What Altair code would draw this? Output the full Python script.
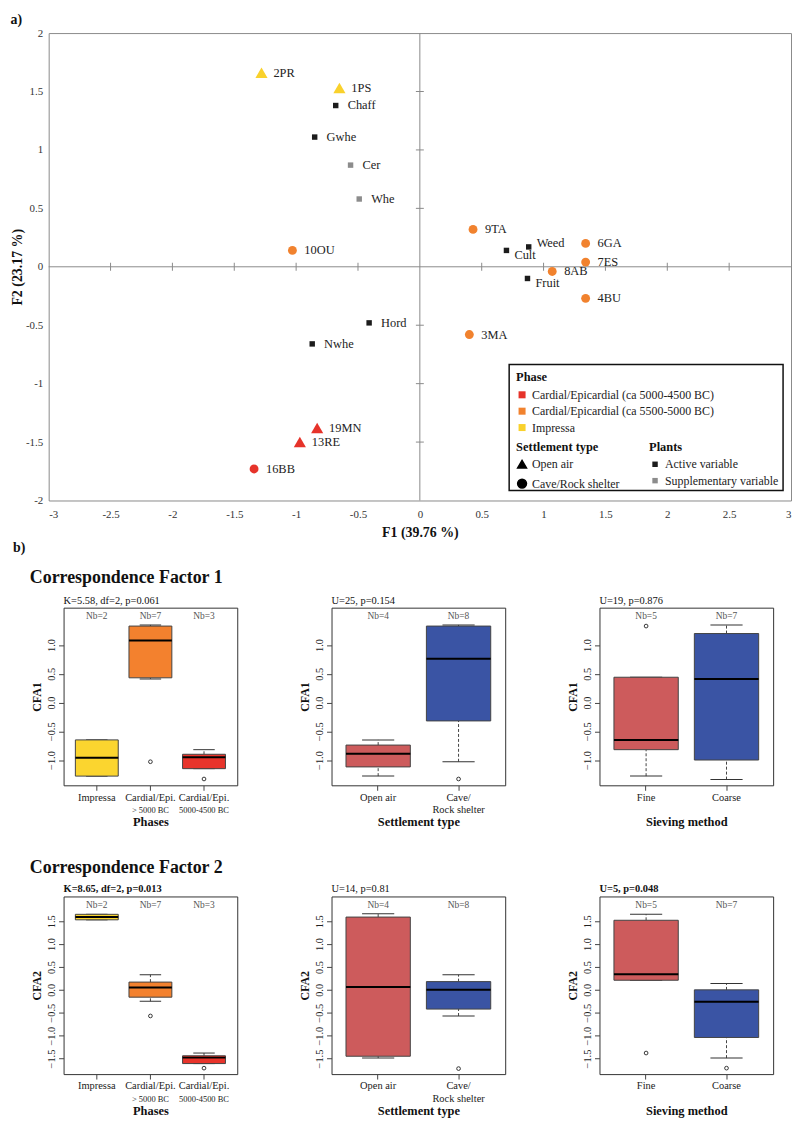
import altair as alt
import pandas as pd

FONT = "Liberation Serif"

# ---------------- a) correspondence analysis ----------------
PH_RED = "Cardial/Epicardial (ca 5000-4500 BC)"
PH_ORA = "Cardial/Epicardial (ca 5500-5000 BC)"
PH_YEL = "Impressa"
phase_domain = [PH_RED, PH_ORA, PH_YEL]
phase_colors = ["#E6332A", "#F1822E", "#F9D12C"]

stype_domain = ["Open air", "Cave/Rock shelter"]
role_domain = ["Active variable", "Supplementary variable"]
role_colors = ["#1c1c1c", "#8c8c8c"]

site_names = ["1PS", "2PR", "3MA", "4BU", "6GA", "7ES", "8AB", "9TA", "10OU", "13RE", "16BB", "19MN"]
site_f1 = [-0.65, -1.28, 0.40, 1.34, 1.34, 1.34, 1.07, 0.43, -1.03, -0.97, -1.34, -0.83]
site_f2 = [1.53, 1.66, -0.58, -0.27, 0.20, 0.04, -0.04, 0.32, 0.14, -1.50, -1.73, -1.38]
site_phase = [PH_YEL, PH_YEL, PH_ORA, PH_ORA, PH_ORA, PH_ORA, PH_ORA, PH_ORA, PH_ORA, PH_RED, PH_RED, PH_RED]
site_type = ["Open air", "Open air", "Cave/Rock shelter", "Cave/Rock shelter", "Cave/Rock shelter",
             "Cave/Rock shelter", "Cave/Rock shelter", "Cave/Rock shelter", "Cave/Rock shelter",
             "Open air", "Cave/Rock shelter", "Open air"]

plant_names = ["Chaff", "Gwhe", "Cer", "Whe", "Weed", "Cult", "Fruit", "Hord", "Nwhe"]
plant_f1 = [-0.68, -0.85, -0.56, -0.49, 0.88, 0.70, 0.87, -0.41, -0.87]
plant_f2 = [1.38, 1.11, 0.87, 0.58, 0.17, 0.14, -0.10, -0.48, -0.66]
plant_role = ["Active variable", "Active variable", "Supplementary variable", "Supplementary variable",
              "Active variable", "Active variable", "Active variable", "Active variable", "Active variable"]

x_ticks = [-3, -2.5, -2, -1.5, -1, -0.5, 0, 0.5, 1, 1.5, 2, 2.5, 3]
y_ticks = [-2, -1.5, -1, -0.5, 0, 0.5, 1, 1.5, 2]

# ---------------- b) boxplots ----------------
phase_l1 = ["Impressa", "Cardial/Epi.", "Cardial/Epi."]
phase_l2 = ["", "> 5000 BC", "5000-4500 BC"]
phase_nb = ["Nb=2", "Nb=7", "Nb=3"]
phase_fill = ["#FBD52F", "#F3812E", "#E8342B"]

settle_l1 = ["Open air", "Cave/"]
settle_l2 = ["", "Rock shelter"]
settle_nb = ["Nb=4", "Nb=8"]

sieve_l1 = ["Fine", "Coarse"]
sieve_l2 = ["", ""]
sieve_nb = ["Nb=5", "Nb=7"]

two_fill = ["#CD5B5C", "#3A54A4"]

# stats per box: [whisker low, Q1, median, Q3, whisker high]
cfa1_phase = [[-1.28, -1.28, -0.96, -0.65, -0.65], [0.41, 0.43, 1.08, 1.33, 1.35], [-1.15, -1.15, -0.95, -0.90, -0.82]]
cfa1_phase_out = [[1, -1.03], [2, -1.33]]
cfa1_settle = [[-1.28, -1.12, -0.89, -0.74, -0.65], [-1.03, -0.32, 0.76, 1.33, 1.35]]
cfa1_settle_out = [[1, -1.33]]
cfa1_sieve = [[-1.28, -0.82, -0.65, 0.44, 0.44], [-1.34, -1.00, 0.41, 1.20, 1.35]]
cfa1_sieve_out = [[0, 1.33]]

cfa2_phase = [[1.53, 1.53, 1.59, 1.65, 1.65], [-0.25, -0.16, 0.05, 0.17, 0.33], [-1.61, -1.61, -1.48, -1.44, -1.38]]
cfa2_phase_out = [[1, -0.57], [2, -1.71]]
cfa2_settle = [[-1.49, -1.45, 0.06, 1.59, 1.66], [-0.57, -0.42, 0.00, 0.18, 0.33]]
cfa2_settle_out = [[1, -1.72]]
cfa2_sieve = [[0.21, 0.21, 0.34, 1.52, 1.65], [-1.49, -1.04, -0.26, 0.00, 0.14]]
cfa2_sieve_out = [[0, -1.38], [1, -1.71]]

cfa1_domain = [-1.44, 1.65]
cfa1_ticks = [-1.0, -0.5, 0.0, 0.5, 1.0]
cfa1_nb_y = 1.51
cfa2_domain = [-1.84, 2.04]
cfa2_ticks = [-1.5, -1.0, -0.5, 0.0, 0.5, 1.0, 1.5]
cfa2_nb_y = 1.86

# =====================================================================
W, H = 748, 471
xs = alt.Scale(domain=[-3, 3], nice=False, zero=False)
ys = alt.Scale(domain=[-2, 2], nice=False, zero=False)
xax = alt.Axis(values=x_ticks, ticks=False, domain=False, grid=False, labelExpr="'' + datum.value",
               labelFontSize=11, labelColor="#333", labelPadding=8, titleFontSize=14,
               titleFontWeight="bold", titlePadding=6, titleColor="#111")
yax = alt.Axis(values=y_ticks, ticks=False, domain=False, grid=False, labelExpr="'' + datum.value",
               labelFontSize=11, labelColor="#333", labelPadding=6, titleFontSize=14,
               titleFontWeight="bold", titlePadding=1, titleColor="#111")


def X(f):
    return alt.X(f, type="quantitative", scale=xs, axis=xax, title="F1 (39.76 %)")


def Y(f):
    return alt.Y(f, type="quantitative", scale=ys, axis=yax, title="F2 (23.17 %)")


sites = pd.DataFrame({"name": site_names, "f1": site_f1, "f2": site_f2,
                      "phase": site_phase, "stype": site_type})
plants = pd.DataFrame({"name": plant_names, "f1": plant_f1, "f2": plant_f2, "role": plant_role})

zero = pd.DataFrame({"v": [0]})
xt = pd.DataFrame({"t": [t for t in x_ticks if t not in (0, -3, 3)]})
xt["z"] = 0
yt = pd.DataFrame({"t": [t for t in y_ticks if t not in (0, -2, 2)]})
yt["z"] = 0

leg_common = dict(orient="none", padding=0, titleFontSize=12.5, titleFontWeight="bold",
                  titleColor="#111", labelFontSize=12, labelColor="#222", labelFontWeight="normal",
                  titlePadding=5, rowPadding=4.5, labelOffset=4, labelLimit=0,
                  titleFont=FONT, labelFont=FONT)

color_sites = alt.Color("phase:N", scale=alt.Scale(domain=phase_domain, range=phase_colors),
                        legend=alt.Legend(title="Phase", legendX=471, legendY=341,
                                          symbolType="square", symbolSize=50, symbolStrokeWidth=0,
                                          **leg_common))
shape_sites = alt.Shape("stype:N", scale=alt.Scale(domain=stype_domain, range=["triangle-up", "circle"]),
                        legend=alt.Legend(title="Settlement type", legendX=511, legendY=411,
                                          symbolFillColor="#000", symbolStrokeColor="#000",
                                          symbolSize=80, **leg_common))
color_plants = alt.Color("role:N", scale=alt.Scale(domain=role_domain, range=role_colors),
                         legend=alt.Legend(title="Plants", legendX=605, legendY=411,
                                           symbolType="square", symbolSize=30, symbolStrokeWidth=0,
                                           **leg_common))

legend_box = alt.Chart(zero).mark_rect(fill="white", stroke="#111", strokeWidth=1.5).encode(
    x=alt.value(464), x2=alt.value(740), y=alt.value(334), y2=alt.value(461))

vline = alt.Chart(zero).mark_rule(color="#8a8a8a", strokeWidth=1).encode(x=X("v"))
hline = alt.Chart(zero).mark_rule(color="#8a8a8a", strokeWidth=1).encode(y=Y("v"))
xcross = alt.Chart(xt).mark_tick(orient="vertical", size=8, thickness=1, color="#8a8a8a", opacity=1).encode(
    x=X("t"), y=Y("z"))
ycross = alt.Chart(yt).mark_tick(orient="horizontal", size=8, thickness=1, color="#8a8a8a", opacity=1).encode(
    x=X("z"), y=Y("t"))

plant_pts = alt.Chart(plants).mark_square(size=30, opacity=1).encode(x=X("f1"), y=Y("f2"), color=color_plants)
site_pts = alt.Chart(sites).mark_point(filled=True, opacity=1, strokeWidth=0).encode(
    x=X("f1"), y=Y("f2"), color=color_sites, shape=shape_sites,
    size=alt.condition(alt.datum.stype == "Open air", alt.value(150), alt.value(80)))

txt_style = dict(align="left", baseline="middle", fontSize=12.5, color="#222", font=FONT)
site_txt = alt.Chart(sites).mark_text(dx=12, **txt_style).encode(x=X("f1"), y=Y("f2"), text="name:N")
low_names = ["Cult", "Fruit"]
high_names = ["Weed"]
plant_txt = alt.Chart(plants).transform_filter(
    ~alt.FieldOneOfPredicate(field="name", oneOf=low_names + high_names)).mark_text(dx=12, **txt_style).encode(
    x=X("f1"), y=Y("f2"), text="name:N")
plant_txt_low = alt.Chart(plants).transform_filter(
    alt.FieldOneOfPredicate(field="name", oneOf=low_names)).mark_text(dx=8, dy=5, **txt_style).encode(
    x=X("f1"), y=Y("f2"), text="name:N")
plant_txt_high = alt.Chart(plants).transform_filter(
    alt.FieldOneOfPredicate(field="name", oneOf=high_names)).mark_text(dx=8, dy=-4, **txt_style).encode(
    x=X("f1"), y=Y("f2"), text="name:N")

top = alt.layer(
    legend_box, vline, hline, xcross, ycross, plant_pts, site_pts, site_txt, plant_txt, plant_txt_low,
    plant_txt_high
).resolve_scale(color="independent").properties(
    width=W, height=H, view=alt.ViewConfig(stroke="#8a8a8a", strokeWidth=1),
    title=alt.TitleParams("a)", anchor="start", fontSize=14, fontWeight="bold", offset=0, color="#111",
                          font=FONT))


def spacer(w):
    return alt.Chart(zero).mark_point(size=1, opacity=0).encode(
        x=alt.value(0), y=alt.value(0)).properties(width=w, height=1, view=alt.ViewConfig(strokeOpacity=0))


# =====================================================================
PW, PH = 175, 179


def box_panel(line1, line2, l2size, nbs, fills, stats, outs, ydom, yticks, nby, ytitle, xtitle,
              subtitle, bold, heads=None):
    n = len(line1)
    cats = [f"{a}|{b}" for a, b in zip(line1, line2)]
    po = 0.22 if n == 3 else 0.18
    step = PW / (n - 0.2 + 2 * po)
    bw = 0.8 * step
    df = pd.DataFrame({"cat": cats, "l2": line2, "nb": nbs, "fill": fills,
                       "lo": [s[0] for s in stats], "q1": [s[1] for s in stats],
                       "med": [s[2] for s in stats], "q3": [s[3] for s in stats],
                       "hi": [s[4] for s in stats]})
    df["nby"] = nby
    odf = pd.DataFrame({"cat": [cats[i] for i, v in outs], "val": [v for i, v in outs]})
    xaxis = alt.Axis(labelExpr="split(datum.label, '|')[0]", labelAngle=0, labelFontSize=10.5,
                     labelPadding=2, tickSize=5, domain=False, grid=False, labelColor="#222",
                     tickColor="#444", titleY=41, titleBaseline="alphabetic", titleFontSize=12.5,
                     titleFontWeight="bold", titleColor="#111", labelFont=FONT, titleFont=FONT)
    yaxis = alt.Axis(values=yticks, format=".1f", labelAngle=-90, labelAlign="center",
                     labelBaseline="bottom", labelPadding=2, tickSize=5, domain=False, grid=False,
                     labelFontSize=10.5, labelColor="#222", tickColor="#444", titleFontSize=12,
                     titleFontWeight="bold", titlePadding=3, titleColor="#111", labelFont=FONT,
                     titleFont=FONT)
    ysc = alt.Scale(domain=ydom, nice=False, zero=False)
    XX = alt.X("cat:N", sort=cats, scale=alt.Scale(paddingInner=0.2, paddingOuter=po), axis=xaxis,
               title=xtitle)

    def YY(f):
        return alt.Y(f, type="quantitative", scale=ysc, axis=yaxis, title=ytitle)

    b = alt.Chart(df)
    layers = [
        b.mark_rule(color="#444", strokeDash=[3, 2], strokeWidth=1).encode(x=XX, y=YY("q3"), y2="hi:Q"),
        b.mark_rule(color="#444", strokeDash=[3, 2], strokeWidth=1).encode(x=XX, y=YY("lo"), y2="q1:Q"),
        b.mark_tick(color="#333", size=bw / 2, thickness=1, opacity=1).encode(x=XX, y=YY("hi")),
        b.mark_tick(color="#333", size=bw / 2, thickness=1, opacity=1).encode(x=XX, y=YY("lo")),
        b.mark_bar(stroke="#444", strokeWidth=1).encode(x=XX, y=YY("q1"), y2="q3:Q",
                                                       fill=alt.Fill("fill:N", scale=None)),
        b.mark_tick(color="#000", size=bw, thickness=2, opacity=1).encode(x=XX, y=YY("med")),
        b.mark_text(fontSize=9.5, color="#555", baseline="middle", font=FONT).encode(
            x=XX, y=YY("nby"), text="nb:N"),
        b.mark_text(fontSize=l2size, color="#222", baseline="middle", font=FONT).encode(
            x=XX, y=alt.value(PH + 25), text="l2:N"),
    ]
    if outs:
        layers.append(alt.Chart(odf).mark_point(shape="circle", size=14, color="#222", strokeWidth=0.9,
                                                opacity=1, filled=False).encode(x=XX, y=YY("val")))
    heads = list(heads or []) + [(subtitle, 0, -7, 10.5, "bold" if bold else "normal")]
    for text, hx, hy, fs, fw in heads:
        layers.append(alt.Chart(pd.DataFrame({"t": [text]})).mark_text(
            align="left", baseline="middle", fontSize=fs, fontWeight=fw, color="#111",
            font=FONT).encode(x=alt.value(hx), y=alt.value(hy), text="t:N"))
    return alt.layer(*layers).properties(
        width=PW, height=PH, view=alt.ViewConfig(stroke="#333", strokeWidth=1))


p11 = box_panel(phase_l1, phase_l2, 8.5, phase_nb, phase_fill, cfa1_phase, cfa1_phase_out, cfa1_domain,
                cfa1_ticks, cfa1_nb_y, "CFA1", "Phases", "K=5.58, df=2, p=0.061", False,
                heads=[("b)", -51, -60, 14, "bold"), ("Correspondence Factor 1", -34, -30, 18, "bold")])
p12 = box_panel(settle_l1, settle_l2, 10.5, settle_nb, two_fill, cfa1_settle, cfa1_settle_out, cfa1_domain,
                cfa1_ticks, cfa1_nb_y, "CFA1", "Settlement type", "U=25, p=0.154", False)
p13 = box_panel(sieve_l1, sieve_l2, 10.5, sieve_nb, two_fill, cfa1_sieve, cfa1_sieve_out, cfa1_domain,
                cfa1_ticks, cfa1_nb_y, "CFA1", "Sieving method", "U=19, p=0.876", False)
p21 = box_panel(phase_l1, phase_l2, 8.5, phase_nb, phase_fill, cfa2_phase, cfa2_phase_out, cfa2_domain,
                cfa2_ticks, cfa2_nb_y, "CFA2", "Phases", "K=8.65, df=2, p=0.013", True,
                heads=[("Correspondence Factor 2", -34, -29, 18, "bold")])
p22 = box_panel(settle_l1, settle_l2, 10.5, settle_nb, two_fill, cfa2_settle, cfa2_settle_out, cfa2_domain,
                cfa2_ticks, cfa2_nb_y, "CFA2", "Settlement type", "U=14, p=0.81", False)
p23 = box_panel(sieve_l1, sieve_l2, 10.5, sieve_nb, two_fill, cfa2_sieve, cfa2_sieve_out, cfa2_domain,
                cfa2_ticks, cfa2_nb_y, "CFA2", "Sieving method", "U=5, p=0.048", True)

row1 = alt.hconcat(p11, p12, p13, spacing=60)
row2 = alt.hconcat(p21, p22, p23, spacing=60)
bsec = alt.vconcat(row1, row2, spacing=29)

chart = alt.vconcat(
    alt.hconcat(spacer(1), top, spacing=0),
    alt.hconcat(spacer(3), bsec, spacing=0),
    spacing=0
).properties(
    padding={"left": 0, "top": 0, "right": 0, "bottom": 0}
).configure(font=FONT).configure_axis(labelFont=FONT, titleFont=FONT).configure_legend(
    labelFont=FONT, titleFont=FONT).configure_title(font=FONT).configure_text(font=FONT)

chart.save("out.html", embed_options={"renderer": "svg", "actions": False})
